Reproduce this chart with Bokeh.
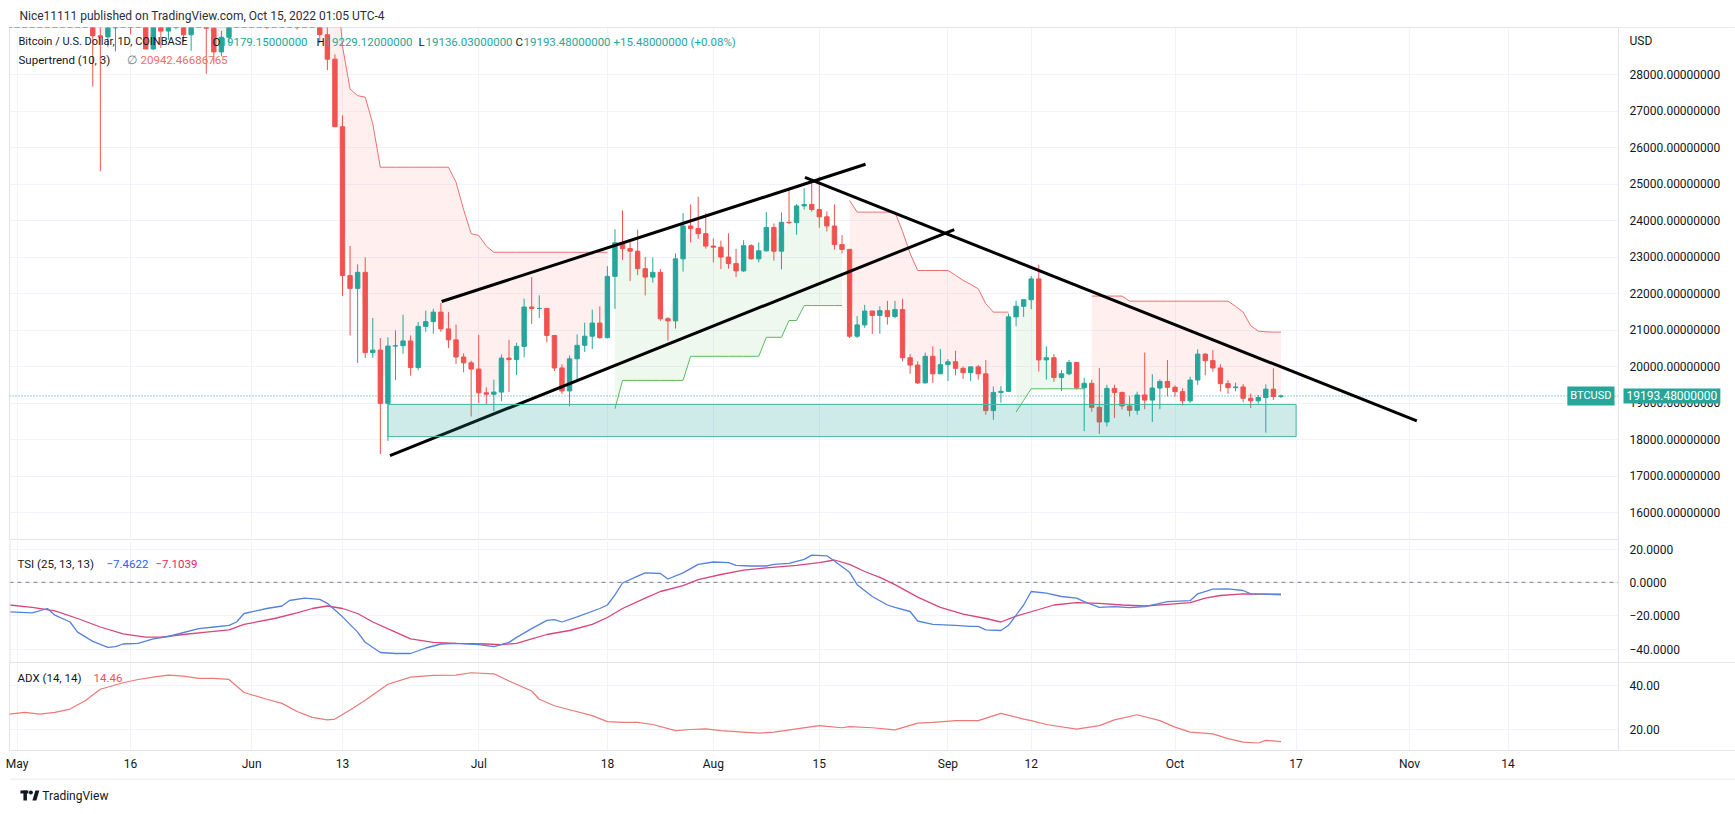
import pandas as pd
from bokeh.plotting import figure
from bokeh.layouts import column
from bokeh.models import Range1d, FixedTicker, Label, Span, Grid, LinearAxis
from bokeh.embed import file_html
from bokeh.resources import INLINE

# ---------------------------------------------------------------- data
candle_start = "2022-04-29"
candle_open = [
    39740, 38600,
    37650, 38470, 38530, 37720, 39690, 36550, 36010, 35470, 34060, 30100, 31010, 29060, 29030, 29280, 29860,
    31300, 29860, 30420, 28700, 30300, 29190, 29430, 30290, 29090, 29650, 29560, 29270, 28620, 29020, 29450, 31730,
    31790, 29800, 30450, 29700, 29860, 29910, 31370, 31120, 30200, 30110, 29090, 28420, 26570, 22490, 22140,
    22580, 20380, 20450, 18990, 20560, 20570, 20700, 19970, 21100, 21230, 21490, 21030, 20730, 20260, 20100,
    19930, 19280, 19240, 19300, 20230, 20190, 20550, 21630, 21590, 21590, 20850, 19960, 19330, 20210, 20580,
    20830, 21190, 20790, 22470, 23390, 23230, 23160, 22680, 22450, 22580, 21310, 21250, 22950, 23850, 23780, 23640,
    23300, 23270, 23000, 22820, 22620, 23310, 22950, 23170, 23810, 23160, 23950, 23940, 24400, 24440, 24300,
    24100, 23850, 23340, 23210, 20830, 21140, 21520, 21400, 21530, 21370, 21560, 20240, 20040, 19550, 20280, 19800,
    20050, 20130, 19950, 19830, 19990, 19800, 18790, 19290, 19320, 21360, 21650, 21830, 22400, 20180, 20240,
    19700, 19800, 20110, 19420, 19540, 18880, 18480, 19400, 19290, 18920, 18800, 19220, 19080, 19410, 19590,
    19430, 19310, 19060, 19630, 20340, 20160, 19960, 19530, 19420, 19440, 19130, 19060, 19150, 19380, 19179.15,
]
candle_high = [
    39900, 38800,
    38660, 39170, 38650, 40000, 39850, 36660, 36130, 35500, 34240, 32650, 32170, 30030, 30980, 30300, 31400,
    31300, 30750, 30650, 30500, 30750, 29630, 30430, 30650, 29830, 30200, 29850, 29370, 29200, 29530, 32200, 32380,
    31950, 30690, 30650, 29950, 30170, 31750, 31560, 31320, 30650, 30330, 29420, 28550, 26880, 23300, 22800,
    22990, 21330, 20780, 20800, 20990, 21420, 20850, 21220, 21530, 21580, 21740, 21490, 21150, 20360, 20160,
    20870, 19430, 19640, 20330, 20730, 20650, 21860, 22450, 21950, 21600, 20860, 20060, 20300, 20880, 21200,
    21560, 21650, 22750, 23760, 24280, 23430, 23750, 23000, 22990, 22670, 21350, 23100, 24200, 24440, 24650, 24200,
    23510, 23450, 23650, 23220, 23460, 23350, 23400, 24230, 23920, 24220, 24900, 24450, 24880, 25050, 25200,
    24250, 24440, 23600, 23210, 21380, 21690, 21520, 21650, 21800, 21800, 21850, 20340, 20140, 20380, 20550, 20480,
    20200, 20430, 20000, 20010, 20040, 20180, 19450, 19460, 21450, 21800, 21830, 22480, 22790, 20550, 20340,
    19900, 20180, 20110, 19690, 19640, 19960, 19500, 19500, 19310, 19180, 19310, 20380, 19790, 19650, 20180,
    19480, 19400, 19720, 20470, 20360, 20450, 20060, 19620, 19560, 19520, 19260, 19220, 19510, 19950, 19229.12,
]
candle_low = [
    38180, 37600,
    37400, 38050, 37520, 37680, 35860, 35260, 34780, 33710, 30030, 29740, 27670, 25350, 28750, 28630, 29480,
    29100, 29460, 28700, 28670, 28730, 28950, 29240, 28890, 28650, 29300, 28020, 28280, 28500, 28800, 29290, 31200,
    29320, 29580, 29250, 29480, 29520, 29880, 29230, 29850, 29980, 28860, 28120, 26560, 21930, 20850, 20100,
    20230, 20240, 17600, 17960, 19630, 20350, 19750, 19900, 20950, 20900, 20950, 20510, 20070, 19840, 18630,
    18990, 18970, 18780, 19050, 19300, 19770, 20250, 21170, 21330, 20660, 19880, 19250, 18910, 19620, 20400,
    20480, 20760, 20770, 21580, 22920, 22340, 22500, 21950, 22300, 21250, 20710, 21040, 22600, 23400, 23500, 23230,
    22850, 22670, 22680, 22450, 22590, 22930, 22850, 23150, 22900, 22660, 23900, 23610, 24300, 24240, 23800,
    23700, 23200, 23100, 20780, 20780, 21060, 20890, 20900, 21150, 21320, 20140, 19800, 19520, 19540, 19550, 19800,
    19600, 19760, 19660, 19600, 19640, 18680, 18540, 19010, 19300, 21100, 21360, 21570, 19860, 19640, 19580,
    19330, 19760, 19370, 18230, 18760, 18150, 18360, 18590, 18820, 18630, 18680, 18830, 18480, 18830, 19180,
    19170, 18930, 19000, 19500, 19760, 19860, 19320, 19250, 19320, 19020, 18860, 18980, 18190, 19080, 19136.03,
]
candle_close = [
    38600, 37650,
    38470, 38530, 37720, 39690, 36550, 36010, 35470, 34060, 30100, 31010, 29060, 29030, 29280, 29860, 31300,
    29860, 30420, 28700, 30300, 29190, 29430, 30290, 29090, 29650, 29560, 29270, 28620, 29020, 29450, 31730, 31790,
    29800, 30450, 29700, 29860, 29910, 31370, 31120, 30200, 30110, 29090, 28420, 26570, 22490, 22140, 22580,
    20380, 20450, 18990, 20560, 20570, 20700, 19970, 21100, 21230, 21490, 21030, 20730, 20260, 20100, 19930,
    19280, 19240, 19300, 20230, 20190, 20550, 21630, 21590, 21590, 20850, 19960, 19330, 20210, 20580, 20830,
    21190, 20790, 22470, 23390, 23230, 23160, 22680, 22450, 22580, 21310, 21250, 22950, 23850, 23780, 23640, 23300,
    23270, 23000, 22820, 22620, 23310, 22950, 23170, 23810, 23160, 23950, 23940, 24400, 24440, 24300, 24100,
    23850, 23340, 23210, 20830, 21140, 21520, 21400, 21530, 21370, 21560, 20240, 20040, 19550, 20280, 19800, 20050,
    20130, 19950, 19830, 19990, 19800, 18790, 19290, 19320, 21360, 21650, 21830, 22400, 20180, 20240, 19700,
    19800, 20110, 19420, 19540, 18880, 18480, 19400, 19290, 18920, 18800, 19220, 19080, 19410, 19590, 19430,
    19310, 19060, 19630, 20340, 20160, 19960, 19530, 19420, 19440, 19130, 19060, 19150, 19380, 19178.00, 19193.48,
]

# Supertrend (10, 3): value per candle and trend (1 = up / green, 0 = down / red)
supertrend_value = (
    [41500] * 6 + [41000, 40300, 39400, 38700, 37600, 37600, 36900, 36500] + [35400] * 12 + [33400] * 7
    + [33000] * 10 + [32400, 31300, 28770, 27600, 27420, 27380, 26650] + [25460] * 10 + [25050, 24300, 23640]
    + [23590, 23300] + [23130] * 16 + [18840] + [19620] * 9 + [20280] * 3
    + [20280] * 7 + [20800] * 3 + [21260] * 2 + [21670] * 6 + [24550] + [24230] * 6 + [23700, 23100] + [22630] * 4
    + [22630, 22500, 22360, 22250, 22130, 21720, 21490, 21490, 21490, 18750, 19070] + [19390] * 8
    + [21930] * 5 + [21790] * 6
    + [21790] * 8 + [21650, 21490, 21120, 20970, 20950, 20942.47, 20942.46686765]
)
supertrend_up = (
    [0] * 33 + [0] * 30 + [0] * 18 + [1] * 13 + [1] * 18 + [0] * 13 + [0] * 9 + [1] * 10 + [0] * 11 + [0] * 15
)

tsi_dates = [
    "2022-04-30", "2022-05-03", "2022-05-05", "2022-05-06", "2022-05-08", "2022-05-09", "2022-05-11", "2022-05-13",
    "2022-05-14", "2022-05-15", "2022-05-17", "2022-05-19", "2022-05-21", "2022-05-22", "2022-05-25", "2022-05-27",
    "2022-05-29", "2022-05-30", "2022-05-31", "2022-06-03", "2022-06-05", "2022-06-06", "2022-06-08", "2022-06-10",
    "2022-06-11", "2022-06-13", "2022-06-15", "2022-06-16", "2022-06-18", "2022-06-20", "2022-06-22", "2022-06-24",
    "2022-06-26", "2022-06-28", "2022-07-01", "2022-07-03", "2022-07-05", "2022-07-06", "2022-07-08", "2022-07-10",
    "2022-07-11", "2022-07-12", "2022-07-14", "2022-07-17", "2022-07-18", "2022-07-19", "2022-07-20", "2022-07-22",
    "2022-07-23", "2022-07-25", "2022-07-26", "2022-07-28", "2022-07-30", "2022-08-01", "2022-08-03", "2022-08-04",
    "2022-08-06", "2022-08-08", "2022-08-09", "2022-08-11", "2022-08-13", "2022-08-14", "2022-08-16", "2022-08-17",
    "2022-08-19", "2022-08-20", "2022-08-22", "2022-08-24", "2022-08-25", "2022-08-27", "2022-08-28", "2022-08-30",
    "2022-09-02", "2022-09-04", "2022-09-05", "2022-09-06", "2022-09-08", "2022-09-09", "2022-09-11", "2022-09-12",
    "2022-09-14", "2022-09-16", "2022-09-18", "2022-09-19", "2022-09-21", "2022-09-23", "2022-09-25", "2022-09-27",
    "2022-09-29", "2022-09-30", "2022-10-03", "2022-10-04", "2022-10-06", "2022-10-08", "2022-10-10", "2022-10-11",
    "2022-10-13", "2022-10-15",
]
tsi_values = [
    -17.7, -18.3, -15.7, -19.7, -23.8, -29.9, -35.4, -39.0,
    -38.6, -37.0, -36.6, -33.9, -32.5, -31.3, -27.8, -26.8,
    -25.8, -23.8, -18.7, -15.7, -14.2, -10.9, -9.5, -10.2,
    -12.6, -20.7, -29.9, -36.0, -42.1, -42.7, -42.7, -39.4,
    -37.0, -36.6, -37.4, -38.6, -36.0, -33.0, -27.8, -22.8,
    -22.4, -23.8, -20.7, -15.7, -13.6, -7.5, -0.4, 3.7,
    5.7, 5.3, 2.0, 5.7, 10.8, 12.2, 11.8, 10.2,
    9.8, 9.8, 10.8, 11.4, 13.8, 16.3, 15.9, 12.8,
    6.0, -1.4, -8.5, -13.6, -15.0, -17.5, -23.2, -25.2,
    -25.8, -26.4, -26.4, -28.5, -28.9, -25.8, -13.6, -5.5,
    -6.5, -8.5, -9.5, -11.6, -15.0, -14.6, -15.2, -14.6,
    -12.6, -11.6, -11.0, -6.9, -4.1, -3.9, -4.9, -6.9,
    -7.1, -7.4622,
]
tsi_signal_dates = [
    "2022-04-30", "2022-05-03", "2022-05-06", "2022-05-09", "2022-05-12", "2022-05-15", "2022-05-18", "2022-05-20",
    "2022-05-23", "2022-05-26", "2022-05-29", "2022-05-31", "2022-06-04", "2022-06-07", "2022-06-09", "2022-06-11",
    "2022-06-13", "2022-06-15", "2022-06-17", "2022-06-20", "2022-06-22", "2022-06-25", "2022-06-28", "2022-07-02",
    "2022-07-04", "2022-07-06", "2022-07-08", "2022-07-10", "2022-07-13", "2022-07-16", "2022-07-18", "2022-07-20",
    "2022-07-23", "2022-07-25", "2022-07-28", "2022-07-30", "2022-08-02", "2022-08-05", "2022-08-08", "2022-08-12",
    "2022-08-15", "2022-08-17", "2022-08-19", "2022-08-21", "2022-08-23", "2022-08-25", "2022-08-28", "2022-08-31",
    "2022-09-03", "2022-09-06", "2022-09-08", "2022-09-10", "2022-09-13", "2022-09-15", "2022-09-18", "2022-09-21",
    "2022-09-24", "2022-09-27", "2022-09-30", "2022-10-03", "2022-10-05", "2022-10-07", "2022-10-10", "2022-10-13",
    "2022-10-15",
]
tsi_signal_values = [
    -13.6, -15.0, -17.1, -21.7, -26.8, -30.9, -32.9, -32.9,
    -31.3, -29.9, -28.5, -25.2, -21.7, -18.3, -15.7, -14.2,
    -15.7, -18.7, -23.8, -29.9, -33.9, -36.0, -36.6, -37.0,
    -37.4, -36.6, -33.9, -31.3, -28.9, -25.2, -21.1, -15.7,
    -9.5, -5.5, -2.0, 1.6, 4.7, 7.3, 8.7, 10.2,
    11.8, 13.4, 10.8, 6.5, 3.0, -1.4, -8.9, -15.0,
    -19.1, -21.7, -23.8, -20.3, -16.3, -13.6, -12.2, -12.6,
    -13.6, -14.2, -13.2, -12.2, -9.5, -7.9, -6.9, -7.1,
    -7.1039,
]
adx_dates = [
    "2022-04-30", "2022-05-02", "2022-05-04", "2022-05-06", "2022-05-08", "2022-05-10", "2022-05-12", "2022-05-15",
    "2022-05-17", "2022-05-19", "2022-05-21", "2022-05-23", "2022-05-25", "2022-05-27", "2022-05-29", "2022-05-31",
    "2022-06-03", "2022-06-05", "2022-06-07", "2022-06-09", "2022-06-11", "2022-06-12", "2022-06-14", "2022-06-16",
    "2022-06-19", "2022-06-22", "2022-06-25", "2022-06-28", "2022-06-30", "2022-07-03", "2022-07-05", "2022-07-08",
    "2022-07-09", "2022-07-11", "2022-07-13", "2022-07-16", "2022-07-18", "2022-07-20", "2022-07-22", "2022-07-24",
    "2022-07-27", "2022-07-29", "2022-07-31", "2022-08-02", "2022-08-05", "2022-08-07", "2022-08-09", "2022-08-12",
    "2022-08-15", "2022-08-16", "2022-08-18", "2022-08-19", "2022-08-22", "2022-08-25", "2022-08-28", "2022-08-30",
    "2022-09-02", "2022-09-05", "2022-09-08", "2022-09-11", "2022-09-12", "2022-09-14", "2022-09-18", "2022-09-21",
    "2022-09-23", "2022-09-26", "2022-09-29", "2022-10-01", "2022-10-03", "2022-10-06", "2022-10-08", "2022-10-10",
    "2022-10-12", "2022-10-13", "2022-10-15",
]
adx_values = [
    27.1, 27.9, 27.1, 27.9, 29.4, 33.2, 38.5, 41.5,
    43.0, 44.1, 45.0, 44.5, 43.5, 43.5, 43.0, 37.0,
    33.9, 32.0, 28.3, 25.6, 24.4, 24.8, 29.0, 33.5,
    40.8, 44.1, 44.9, 45.0, 46.1, 45.6, 42.3, 37.7,
    33.9, 30.9, 29.1, 26.4, 23.6, 23.3, 23.3, 22.3,
    19.5, 20.0, 20.3, 19.5, 18.8, 18.3, 18.8, 20.3,
    21.8, 21.4, 20.8, 21.3, 20.8, 19.8, 22.9, 23.3,
    24.1, 24.1, 27.4, 24.8, 24.1, 22.3, 20.2, 21.8,
    24.4, 26.8, 24.1, 21.1, 18.8, 18.0, 15.8, 14.2,
    13.8, 15.0, 14.46,
]

# drawings made on the chart
trendline_start_dates = ["2022-06-19 06:30", "2022-06-26 02:30", "2022-08-13 02:30"]
trendline_start_prices = [17560, 21781, 25180]
trendline_end_dates = ["2022-09-01 20:00", "2022-08-21 02:30", "2022-11-01 22:50"]
trendline_end_prices = [23753, 25540, 18510]
zone_left_date, zone_right_date = "2022-06-19", "2022-10-17"
zone_bottom_price, zone_top_price = 18080, 18960

# axes
price_ticks = [16000, 17000, 18000, 19000, 20000, 21000, 22000, 23000, 24000, 25000, 26000, 27000, 28000]
tsi_ticks = [20, 0, -20, -40]
tsi_tick_labels = ["20.0000", "0.0000", "\u221220.0000", "\u221240.0000"]
adx_ticks = [40, 20]
adx_tick_labels = ["40.00", "20.00"]
date_ticks = ["2022-05-01", "2022-05-16", "2022-06-01", "2022-06-13", "2022-07-01", "2022-07-18", "2022-08-01",
              "2022-08-15", "2022-09-01", "2022-09-12", "2022-10-01", "2022-10-17", "2022-11-01", "2022-11-14"]
date_tick_labels = ["May", "16", "Jun", "13", "Jul", "18", "Aug", "15", "Sep", "12", "Oct", "17", "Nov", "14"]

# ---------------------------------------------------------------- helpers / style
def ms(dates):
    return [int(v) // 10**6 for v in pd.to_datetime(dates).asi8]

DAY = 86400000
FONT = "Roboto"
TXT = "#131722"
UP, DOWN = "#26a69a", "#ef5350"
BORDER = "#e0e3eb"
GRID = "#f0f3fa"
W = 1735
LEFT = 9
PANE_W = 1609            # chart area width, price scale starts right of it
H_HDR, H_MAIN, H_TSI, H_ADX, AX_H, H_FTR = 27, 513, 122, 116, 28, 28

origin = ms(["2022-05-01"])[0]
X0, X1 = origin - 1.0 * DAY, origin + 211.6 * DAY
XF = X0 + (W - LEFT) * (X1 - X0) / PANE_W   # frame also covers the price-scale column
Y0, Y1 = 15233, 29288


def fx(px):
    return X0 + px * (X1 - X0) / PANE_W


def style_axis(ax):
    ax.axis_line_color = BORDER
    ax.major_tick_line_color = None
    ax.minor_tick_line_color = None
    ax.major_label_standoff = 5
    ax.major_label_text_font = FONT
    ax.major_label_text_font_size = "12px"
    ax.major_label_text_color = TXT


def mk(height, yr, yticks, ylabels, bottom=0, outline=True):
    f = figure(width=W, height=height, x_range=Range1d(X0, XF), y_range=yr,
               output_backend="svg", toolbar_location=None,
               x_axis_location="below" if bottom else None, y_axis_location=None,
               min_border_left=LEFT, min_border_right=0, min_border_top=0, min_border_bottom=bottom)
    # drop the automatic grids, use grids bound to the chart's own ticks
    f.center = [r for r in f.center if not isinstance(r, Grid)]
    f.outline_line_color = BORDER if outline else None
    f.background_fill_color = "white"
    f.border_fill_color = "white"
    f.add_layout(Grid(dimension=0, ticker=FixedTicker(ticks=ms(date_ticks)), grid_line_color=GRID))
    f.add_layout(Grid(dimension=1, ticker=FixedTicker(ticks=[t for t in yticks if ylabels[t] != "USD"]),
                      grid_line_color=GRID))
    ax = LinearAxis(fixed_location=X1, ticker=FixedTicker(ticks=yticks), major_label_overrides=ylabels)
    style_axis(ax)
    f.add_layout(ax, "right")
    return f


def cover(f, yr):
    # blank price-scale column (hides grid lines behind the scale labels)
    f.quad(left=[X1], right=[XF], bottom=[yr.start], top=[yr.end], fill_color="white", line_color=None)


def lab(f, x, y, text, color=TXT, size="12px", **kw):
    f.add_layout(Label(x=x, y=y, text=text, text_color=color, text_font=FONT, text_font_size=size,
                       text_baseline="middle", **kw))

# ---------------------------------------------------------------- header
hdr = figure(width=W, height=H_HDR, x_range=Range1d(0, W), y_range=Range1d(0, H_HDR),
             output_backend="svg", toolbar_location=None, x_axis_location=None, y_axis_location=None,
             min_border=0)
hdr.center = [r for r in hdr.center if not isinstance(r, Grid)]
hdr.outline_line_color = None
lab(hdr, 10, 12, "Nice11111 published on TradingView.com, Oct 15, 2022 01:05 UTC-4", color="#2a2e39")

# ---------------------------------------------------------------- main pane
yr_main = Range1d(Y0, Y1)
usd_pos = int(Y1 - 13 * (Y1 - Y0) / H_MAIN)
ov = {t: f"{t}.00000000" for t in price_ticks}
ov[usd_pos] = "USD"
p = mk(H_MAIN, yr_main, price_ticks + [usd_pos], ov)

cx = ms(pd.date_range(candle_start, periods=len(candle_close), freq="D"))
n = len(cx)
body_mid = [(o + c) / 2 for o, c in zip(candle_open, candle_close)]

segs, s = [], 0
for i in range(1, n + 1):
    if i == n or supertrend_up[i] != supertrend_up[s]:
        segs.append((s, i))
        s = i
for a_, b_ in segs:
    up = supertrend_up[a_] == 1
    p.varea(x=cx[a_:b_], y1=supertrend_value[a_:b_], y2=body_mid[a_:b_],
            fill_color="#4caf50" if up else "#ff5252", fill_alpha=0.09)

last_close = candle_close[-1]
p.add_layout(Span(location=last_close, dimension="width", line_color=UP, line_dash="1 2", line_width=1,
                  level="underlay"))

colors = [UP if c >= o else DOWN for o, c in zip(candle_open, candle_close)]
p.segment(x0=cx, y0=candle_low, x1=cx, y1=candle_high, line_color=colors, line_width=1)
p.vbar(x=cx, width=0.58 * DAY, top=[max(o, c) for o, c in zip(candle_open, candle_close)],
       bottom=[min(o, c) for o, c in zip(candle_open, candle_close)], fill_color=colors, line_color=colors,
       line_width=1)

for a_, b_ in segs:
    up = supertrend_up[a_] == 1
    p.line(cx[a_:b_], supertrend_value[a_:b_], line_color="#5cb860" if up else "#ec6f6f", line_width=1)

p.segment(x0=ms(trendline_start_dates), y0=trendline_start_prices, x1=ms(trendline_end_dates),
          y1=trendline_end_prices, line_color="black", line_width=3)
p.quad(left=ms([zone_left_date]), right=ms([zone_right_date]), bottom=[zone_bottom_price], top=[zone_top_price],
       fill_color=UP, fill_alpha=0.22, line_color="#45b9a5", line_width=1)
cover(p, yr_main)


def py(px):
    return Y1 - px * (Y1 - Y0) / H_MAIN


o_, h_, l_, c_ = candle_open[-1], candle_high[-1], candle_low[-1], candle_close[-1]
chg = c_ - candle_close[-2]
pct = chg / candle_close[-2] * 100
lab(p, fx(9), py(14), "Bitcoin / U.S. Dollar, 1D, COINBASE", size="11px")
for px_l, px_v, letter, val in [(203, 211, "O", o_), (307, 316, "H", h_), (409, 416, "L", l_), (506, 514, "C", c_)]:
    lab(p, fx(px_l), py(14), letter, size="11.5px")
    lab(p, fx(px_v), py(14), f"{val:.8f}", color=UP, size="11.5px")
lab(p, fx(604), py(14), f"{chg:+.8f} ({pct:+.2f}%)", color=UP, size="11.5px")
lab(p, fx(9), py(32), "Supertrend (10, 3)", size="11.5px")
lab(p, fx(117), py(32), "\u2205", color="#787b86", size="11.5px")
lab(p, fx(131), py(32), f"{supertrend_value[-1]:.8f}", color="#ef6c6c", size="11.5px")

lab(p, X1, last_close, "BTCUSD", color="white", size="11px", text_align="right", x_offset=-4,
    background_fill_color=UP, padding=3)
lab(p, X1, last_close, f"{last_close:.8f}", color="white", size="12px", text_align="left", x_offset=5,
    background_fill_color=UP, padding=3)

# ---------------------------------------------------------------- TSI pane
TY0, TY1 = -48.1, 25.1
yr_tsi = Range1d(TY0, TY1)
t = mk(H_TSI, yr_tsi, tsi_ticks, dict(zip(tsi_ticks, tsi_tick_labels)), outline=False)
t.add_layout(Span(location=0, dimension="width", line_color="#787b86", line_dash="4 4", line_width=1,
                  level="underlay"))
t.line(ms(tsi_signal_dates), tsi_signal_values, line_color="#d9457a", line_width=1.3)
t.line(ms(tsi_dates), tsi_values, line_color="#5582dc", line_width=1.3)
cover(t, yr_tsi)
t.add_layout(Span(location=X0, dimension="height", line_color=BORDER, line_width=2))


def ty(px):
    return TY1 - px * (TY1 - TY0) / H_TSI


def mfmt(v, d):
    return f"{v:.{d}f}".replace("-", "\u2212")


lab(t, fx(8), ty(23), "TSI (25, 13, 13)", size="11.5px")
lab(t, fx(97), ty(23), mfmt(tsi_values[-1], 4), color="#2962ff", size="11.5px")
lab(t, fx(146), ty(23), mfmt(tsi_signal_values[-1], 4), color="#e91e63", size="11.5px")

# ---------------------------------------------------------------- ADX pane + date axis
AY0, AY1 = 10.35, 50.8
yr_adx = Range1d(AY0, AY1)
a = mk(H_ADX, yr_adx, adx_ticks, dict(zip(adx_ticks, adx_tick_labels)), bottom=AX_H)
xa = a.xaxis[0]
xa.ticker = FixedTicker(ticks=ms(date_ticks))
xa.major_label_overrides = dict(zip(ms(date_ticks), date_tick_labels))
xa.axis_line_color = None
xa.major_tick_line_color = None
xa.minor_tick_line_color = None
xa.major_label_standoff = 0
xa.major_label_text_font = FONT
xa.major_label_text_font_size = "12px"
xa.major_label_text_color = TXT
a.line(ms(adx_dates), adx_values, line_color="#ec7878", line_width=1.2)
cover(a, yr_adx)


def ay(px):
    return AY1 - px * (AY1 - AY0) / (H_ADX - AX_H)


lab(a, fx(8), ay(15), "ADX (14, 14)", size="11.5px")
lab(a, fx(84), ay(15), f"{adx_values[-1]:.2f}", color="#ef5350", size="11.5px")

# ---------------------------------------------------------------- footer
ftr = figure(width=W, height=H_FTR, x_range=Range1d(0, W), y_range=Range1d(0, H_FTR),
             output_backend="svg", toolbar_location=None, x_axis_location=None, y_axis_location=None,
             min_border=0)
ftr.center = [r for r in ftr.center if not isinstance(r, Grid)]
ftr.outline_line_color = None
ftr.add_layout(Span(location=27.5, dimension="width", line_color=BORDER, line_width=1))
ftr.quad(left=[11, 14], right=[19, 17.5], bottom=[13, 6], top=[16, 16], fill_color="#131722", line_color=None)
ftr.scatter([21.5], [14], size=4, fill_color="#131722", line_color=None)
ftr.patch([23, 27, 30, 26], [6, 6, 16, 16], fill_color="#131722", line_color=None)
lab(ftr, 33, 11, "TradingView", color="#131722", size="12px")

layout = column(hdr, p, t, a, ftr, spacing=0)
open("out.html", "w").write(file_html(layout, INLINE))
